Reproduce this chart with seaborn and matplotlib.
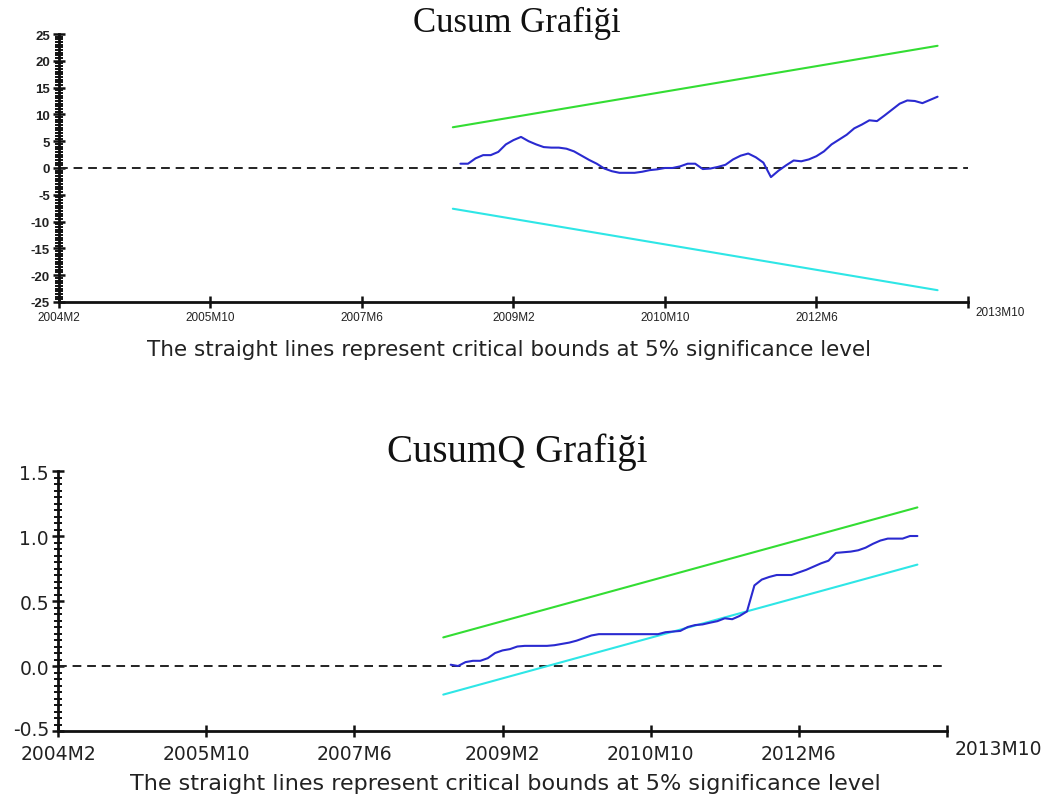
import matplotlib
matplotlib.use("Agg")
import matplotlib.pyplot as plt
import numpy as np
import pandas as pd
import seaborn as sns
from matplotlib.ticker import MultipleLocator, FixedLocator, FixedFormatter
from matplotlib.transforms import ScaledTranslation
from matplotlib import font_manager

# ---- data (x = months elapsed since 2004M2) ----
tick_months = [0, 20, 40, 60, 80, 100, 120]
tick_labels = ["2004M2", "2005M10", "2007M6", "2009M2", "2010M10", "2012M6", "2013M10"]

obs_months = list(range(53, 117))

cusum = [0.8, 0.8, 1.8, 2.4, 2.4, 3.0, 4.4, 5.2, 5.8, 5.0,
         4.4, 3.9, 3.8, 3.8, 3.6, 3.1, 2.3, 1.5, 0.8, -0.1,
         -0.6, -0.9, -0.9, -0.9, -0.7, -0.4, -0.25, 0.0, 0.0, 0.3,
         0.8, 0.8, -0.2, -0.1, 0.2, 0.6, 1.6, 2.3, 2.7, 2.0,
         1.0, -1.7, -0.5, 0.5, 1.4, 1.25, 1.6, 2.2, 3.1, 4.4,
         5.3, 6.2, 7.4, 8.1, 8.9, 8.75, 9.8, 10.9, 12.0, 12.6,
         12.5, 12.1, 12.7, 13.3]

cusumsq = [0.01, 0.0, 0.03, 0.04, 0.04, 0.06, 0.10, 0.12, 0.13, 0.15,
           0.155, 0.155, 0.155, 0.155, 0.16, 0.17, 0.18, 0.195, 0.215, 0.235,
           0.245, 0.245, 0.245, 0.245, 0.245, 0.245, 0.245, 0.245, 0.245, 0.26,
           0.265, 0.27, 0.30, 0.315, 0.32, 0.333, 0.345, 0.367, 0.36, 0.385,
           0.42, 0.62, 0.665, 0.685, 0.70, 0.70, 0.70, 0.72, 0.74, 0.765,
           0.79, 0.81, 0.87, 0.875, 0.88, 0.89, 0.91, 0.94, 0.965, 0.98,
           0.98, 0.98, 1.0, 1.0]

bound_months = [52, 116]
cusum_upper = [7.6, 22.8]
cusum_lower = [-7.6, -22.8]
cusumsq_upper = [0.22, 1.22]
cusumsq_lower = [-0.22, 0.78]

note = "The straight lines represent critical bounds at 5% significance level"

# ---- style ----
sns.set_theme(style="ticks")
installed = {f.name for f in font_manager.fontManager.ttflist}
narrow = "Liberation Sans Narrow" if "Liberation Sans Narrow" in installed else "Liberation Sans"
plt.rcParams["font.family"] = ["Liberation Sans", "DejaVu Sans"]

GREEN = "#33dd33"
CYAN = "#2ee6e6"
BLUE = "#2a2ad0"

fig = plt.figure(figsize=(10.63, 8.03), dpi=100)
fig.patch.set_facecolor("white")

ax1 = fig.add_axes([0.0555, 0.6227, 0.855, 0.3337])
ax2 = fig.add_axes([0.0546, 0.0884, 0.8363, 0.3238])


def draw_panel(ax, series, upper, lower, ylim, major, minor):
    sns.lineplot(x=bound_months, y=upper, ax=ax, color=GREEN, lw=1.5)
    sns.lineplot(x=bound_months, y=lower, ax=ax, color=CYAN, lw=1.5)
    ax.axhline(0, color="#222222", lw=1.4, ls=(0, (4.5, 3)), zorder=1)
    sns.lineplot(x=obs_months, y=series, ax=ax, color=BLUE, lw=1.5)
    ax.set_xlim(0, 120)
    ax.set_ylim(*ylim)
    ax.yaxis.set_major_locator(MultipleLocator(major))
    ax.yaxis.set_minor_locator(MultipleLocator(minor))
    ax.xaxis.set_major_locator(FixedLocator(tick_months))
    ax.xaxis.set_major_formatter(FixedFormatter(tick_labels))
    ax.set_xlabel("")
    ax.set_ylabel("")
    for side in ("top", "right"):
        ax.spines[side].set_visible(False)
    for side in ("left", "bottom"):
        ax.spines[side].set_linewidth(2.0)
        ax.spines[side].set_color("#111111")
    ax.tick_params(axis="both", which="major", direction="inout", length=9,
                   width=1.8, color="#111111", pad=2)
    ax.tick_params(axis="y", which="minor", direction="inout", length=6,
                   width=1.4, color="#111111")
    ax.grid(False)
    ax.set_facecolor("white")


draw_panel(ax1, cusum, cusum_upper, cusum_lower, (-25, 25), 5, 0.5)
draw_panel(ax2, cusumsq, cusumsq_upper, cusumsq_lower, (-0.5, 1.5), 0.5, 0.05)

# top panel: small condensed labels
ax1.set_yticks([-25, -20, -15, -10, -5, 0, 5, 10, 15, 20, 25])
ax1.set_yticklabels([str(v) for v in ax1.get_yticks().astype(int)])
for lab in ax1.get_yticklabels():
    lab.set_fontfamily(narrow)
    lab.set_fontsize(9.5)
    lab.set_fontweight("bold")
    lab.set_color("#222222")
for lab in ax1.get_xticklabels():
    lab.set_fontfamily(narrow)
    lab.set_fontsize(8.5)
    lab.set_color("#222222")

# bottom panel: larger labels
ax2.tick_params(axis="x", which="major", pad=5)
ax2.set_yticks([-0.5, 0.0, 0.5, 1.0, 1.5])
ax2.set_yticklabels(["-0.5", "0.0", "0.5", "1.0", "1.5"])
for lab in ax2.get_yticklabels() + ax2.get_xticklabels():
    lab.set_fontfamily("DejaVu Sans")
    lab.set_fontsize(13.5)
    lab.set_color("#222222")
# lift the lowest value label clear of the first date label
low = ax2.get_yticklabels()[0]
low.set_transform(low.get_transform() + ScaledTranslation(0, 0.04, fig.dpi_scale_trans))

# last date label sits to the right of its tick
for ax in (ax1, ax2):
    last = ax.get_xticklabels()[-1]
    last.set_horizontalalignment("left")
    last.set_transform(last.get_transform() + ScaledTranslation(0.08, 0.05, fig.dpi_scale_trans))

# titles and notes
fig.text(517 / 1063, 1 - 23 / 803, "Cusum Grafiği", ha="center", va="center",
         fontfamily="Liberation Serif", fontsize=25, color="#111111")
fig.text(517 / 1063, 1 - 452 / 803, "CusumQ Grafiği", ha="center", va="center",
         fontfamily="Liberation Serif", fontsize=28, color="#111111")
fig.text(509 / 1063, 1 - 350 / 803, note, ha="center", va="center",
         fontfamily="DejaVu Sans", fontsize=15.5, color="#222222")
fig.text(505 / 1063, 1 - 784 / 803, note, ha="center", va="center",
         fontfamily="DejaVu Sans", fontsize=16, color="#222222")

fig.savefig("out.png", dpi=100, facecolor="white")
